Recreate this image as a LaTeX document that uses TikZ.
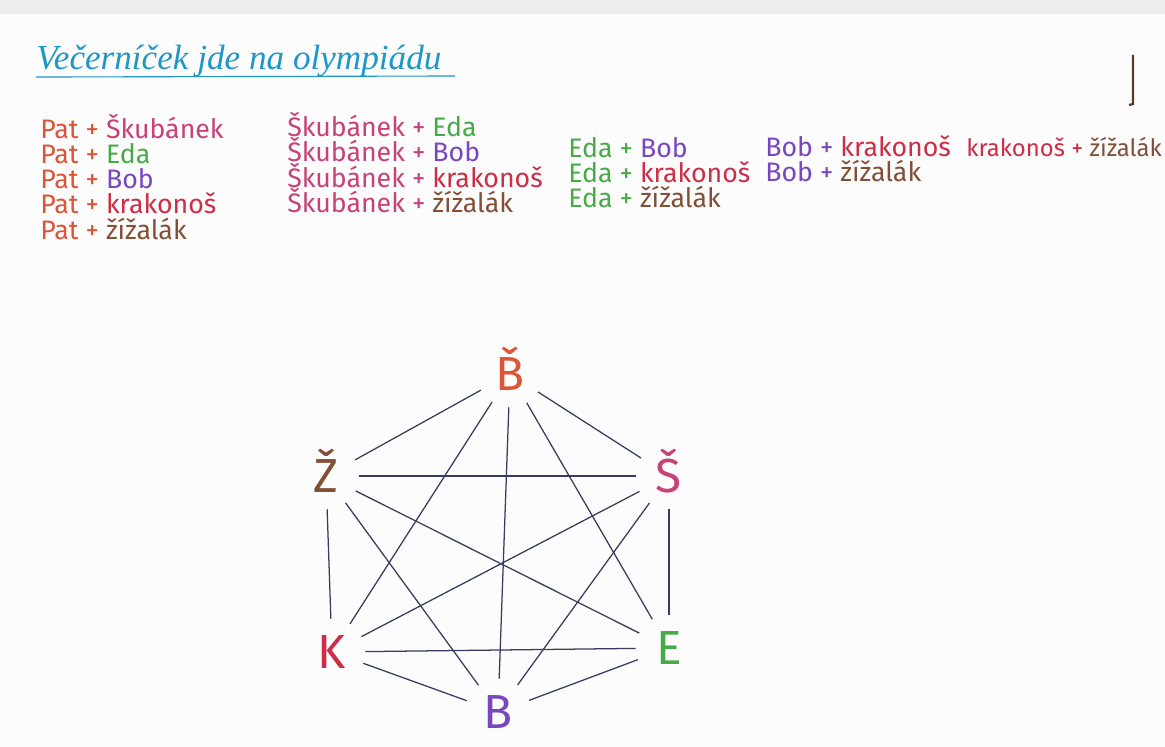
\documentclass[tikz,border=0pt]{standalone}
\usepackage{fontspec}
\setmainfont{Fira Sans}
\newfontfamily\titlefont{Liberation Serif}
\usetikzlibrary{positioning}
\definecolor{patcol}{RGB}{220,85,55}
\definecolor{skubcol}{RGB}{200,65,120}
\definecolor{edacol}{RGB}{70,170,70}
\definecolor{bobcol}{RGB}{120,70,190}
\definecolor{krakcol}{RGB}{205,45,70}
\definecolor{zizcol}{RGB}{130,80,55}
\definecolor{titlecol}{RGB}{30,150,200}
\definecolor{edgecol}{RGB}{55,60,95}
\definecolor{paper}{RGB}{252,252,252}
\tikzset{
  pair/.style={anchor=base west, inner sep=0pt,
    font=\fontsize{19}{22}\selectfont},
  letter/.style={circle, minimum size=1.65cm, inner sep=0pt,
    text height=0.83cm, text depth=0pt,
    font=\fontsize{34}{34}\selectfont},
  edge/.style={draw=edgecol, line width=0.9pt}
}

\begin{document}
\begin{tikzpicture}[x=0.025cm, y=-0.025cm]
  \useasboundingbox (0,0) rectangle (1165,747);
  \fill[paper] (0,0) rectangle (1165,747);
  \fill[black!7] (0,0) rectangle (1165,14);
  % page mark
  \draw[zizcol!70!black, line width=1.6pt] (1133,55) -- (1133,104) -- (1129,105);

  % title
  \node[anchor=base west, inner sep=0pt, text=titlecol,
    font=\titlefont\itshape\fontsize{25}{25}\selectfont] (title) at (36,70)
    {Večerníček jde na olympiádu};
  \draw[titlecol, line width=0.8pt] ([yshift=-5pt]title.base west) -- (455,76);

  % pairs
  \node[pair, text=patcol] (pa1) at (40,139) {Pat + \textcolor{skubcol}{Škubánek}};
  \node[pair, text=patcol] (pa2) at (40,164) {Pat + \textcolor{edacol}{Eda}};
  \node[pair, text=patcol] (pa3) at (40,189) {Pat + \textcolor{bobcol}{Bob}};
  \node[pair, text=patcol] (pa4) at (40,214) {Pat + \textcolor{krakcol}{krakonoš}};
  \node[pair, text=patcol] (pa5) at (40,240) {Pat + \textcolor{zizcol}{žížalák}};

  \node[pair, text=skubcol] (sk1) at (287,137) {Škubánek + \textcolor{edacol}{Eda}};
  \node[pair, text=skubcol] (sk2) at (287,162) {Škubánek + \textcolor{bobcol}{Bob}};
  \node[pair, text=skubcol] (sk3) at (287,188) {Škubánek + \textcolor{krakcol}{krakonoš}};
  \node[pair, text=skubcol] (sk4) at (287,213) {Škubánek + \textcolor{zizcol}{žížalák}};

  \node[pair, text=edacol] (ed1) at (568,158) {Eda + \textcolor{bobcol}{Bob}};
  \node[pair, text=edacol] (ed2) at (568,183) {Eda + \textcolor{krakcol}{krakonoš}};
  \node[pair, text=edacol] (ed3) at (568,208) {Eda + \textcolor{zizcol}{žížalák}};

  \node[pair, text=bobcol] (bo1) at (765,157) {Bob + \textcolor{krakcol}{krakonoš}};
  \node[pair, text=bobcol] (bo2) at (765,182) {Bob + \textcolor{zizcol}{žížalák}};

  \node[pair, text=krakcol, font=\fontsize{17}{20}\selectfont] (kr1) at (966,157)
    {krakonoš + \textcolor{zizcol}{žížalák}};

  % graph
  \node[letter, text=patcol] (pat) at (510,374) {B̌};
  \node[letter, text=skubcol] (skub) at (669,476) {Š};
  \node[letter, text=edacol] (eda) at (669,648) {E};
  \node[letter, text=bobcol] (bob) at (498,712) {B};
  \node[letter, text=krakcol] (krak) at (332,652) {K};
  \node[letter, text=zizcol] (ziz) at (326,476) {Ž};

  \draw[edge] (pat) -- (skub);
  \draw[edge] (pat) -- (eda);
  \draw[edge] (pat) -- (bob);
  \draw[edge] (pat) -- (krak);
  \draw[edge] (pat) -- (ziz);
  \draw[edge] (skub) -- (eda);
  \draw[edge] (skub) -- (bob);
  \draw[edge] (skub) -- (krak);
  \draw[edge] (skub) -- (ziz);
  \draw[edge] (eda) -- (bob);
  \draw[edge] (eda) -- (krak);
  \draw[edge] (eda) -- (ziz);
  \draw[edge] (bob) -- (krak);
  \draw[edge] (bob) -- (ziz);
  \draw[edge] (krak) -- (ziz);
\end{tikzpicture}
\end{document}
